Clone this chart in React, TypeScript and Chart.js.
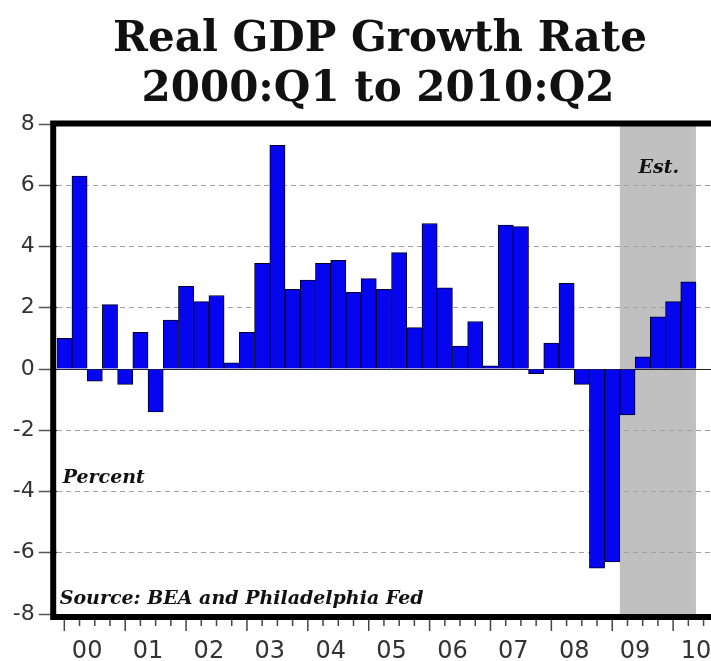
import React, { useEffect, useRef } from "react";
import { Chart, registerables } from "chart.js";

Chart.register(...registerables);

// ---- data ----
const YEARS = ["00", "01", "02", "03", "04", "05", "06", "07", "08", "09", "10"];
const QUARTERS = ["Q1", "Q2", "Q3", "Q4"];
// Real GDP growth, percent (annualized), 2000:Q1 .. 2010:Q2
const GDP_GROWTH = [
  1.0, 6.3, -0.4, 2.1,
  -0.5, 1.2, -1.4, 1.6,
  2.7, 2.2, 2.4, 0.2,
  1.2, 3.45, 7.3, 2.6,
  2.9, 3.45, 3.55, 2.5,
  2.95, 2.6, 3.8, 1.35,
  4.75, 2.65, 0.75, 1.55,
  0.1, 4.7, 4.65, -0.15,
  0.85, 2.8, -0.5, -6.5,
  -6.3, -1.5, 0.4, 1.7,
  2.2, 2.85,
];
const Y_MIN = -8;
const Y_MAX = 8;
const Y_STEP = 2;
const EST_START = "2009Q2";
const EST_END = "2010Q2";
const TITLE_LINES = ["Real GDP Growth Rate", "2000:Q1 to 2010:Q2"];
const EST_LABEL = "Est.";
const UNIT_LABEL = "Percent";
const SOURCE_LABEL = "Source: BEA and Philadelphia Fed";

const CATEGORIES = YEARS.flatMap((y) => QUARTERS.map((q) => `20${y}${q}`));

const CANVAS_W = 760;
const CANVAS_H = 661;

export default function App() {
  const ref = useRef<HTMLCanvasElement | null>(null);

  useEffect(() => {
    const canvas = ref.current;
    if (!canvas) return;

    const bandEdges = (chart: any) => {
      const x = chart.scales.x;
      const half = (x.getPixelForValue(1) - x.getPixelForValue(0)) / 2;
      const i0 = CATEGORIES.indexOf(EST_START);
      const i1 = CATEGORIES.indexOf(EST_END);
      return [x.getPixelForValue(i0) - half, x.getPixelForValue(i1) + half];
    };

    const decorations = {
      id: "decorations",
      beforeDraw(chart: any) {
        const { ctx, chartArea } = chart;
        const [left, right] = bandEdges(chart);
        ctx.save();
        ctx.fillStyle = "#c0c0c0";
        ctx.fillRect(left, chartArea.top, right - left, chartArea.bottom - chartArea.top);
        ctx.restore();
      },
      beforeDatasetsDraw(chart: any) {
        const { ctx, chartArea } = chart;
        const y = chart.scales.y;
        const y0 = Math.round(y.getPixelForValue(0)) + 0.5;
        ctx.save();
        ctx.strokeStyle = "#222";
        ctx.lineWidth = 1;
        ctx.beginPath();
        ctx.moveTo(chartArea.left, y0);
        ctx.lineTo(chartArea.right, y0);
        ctx.stroke();
        ctx.restore();
      },
      afterDraw(chart: any) {
        const { ctx, chartArea } = chart;
        const x = chart.scales.x;
        const y = chart.scales.y;
        ctx.save();
        // frame
        ctx.strokeStyle = "#000";
        ctx.lineWidth = 6;
        const fl = chartArea.left - 3.5;
        const ft = chartArea.top - 0.5;
        const fb = chartArea.bottom + 3;
        ctx.strokeRect(fl, ft, chartArea.right + 20 - fl, fb - ft);
        // quarterly tick marks below axis
        ctx.strokeStyle = "#444";
        ctx.lineWidth = 1.5;
        for (let i = 0; i < CATEGORIES.length; i++) {
          const px = x.getPixelForTick(i);
          const len = i % 4 === 0 ? 11 : 6;
          ctx.beginPath();
          ctx.moveTo(px, fb + 3);
          ctx.lineTo(px, fb + 3 + len);
          ctx.stroke();
        }
        // annotations
        ctx.fillStyle = "#111";
        ctx.font = 'italic bold 19px "DejaVu Serif"';
        ctx.textBaseline = "middle";
        const [bl, br] = bandEdges(chart);
        ctx.textAlign = "center";
        ctx.fillText(EST_LABEL, (bl + br) / 2 + 1, y.getPixelForValue(6.55));
        ctx.textAlign = "left";
        ctx.fillText(UNIT_LABEL, chartArea.left + 6, y.getPixelForValue(-3.55));
        ctx.fillText(SOURCE_LABEL, chartArea.left + 3, y.getPixelForValue(-7.5));
        // title
        ctx.fillStyle = "#111";
        ctx.font = 'bold 42px "DejaVu Serif"';
        ctx.textAlign = "center";
        ctx.textBaseline = "alphabetic";
        ctx.fillText(TITLE_LINES[0], 380, 51);
        ctx.fillText(TITLE_LINES[1], 378, 101);
        ctx.restore();
      },
    };

    const chart = new Chart(canvas, {
      type: "bar",
      data: {
        labels: CATEGORIES,
        datasets: [
          {
            data: GDP_GROWTH,
            backgroundColor: "#0505f0",
            borderColor: "#000022",
            borderWidth: 1,
            barPercentage: 1,
            categoryPercentage: 1,
          },
        ],
      },
      options: {
        responsive: false,
        animation: false,
        devicePixelRatio: 1,
        layout: { padding: { top: 124, right: 33.6, left: 0, bottom: 0 } },
        plugins: {
          legend: { display: false },
          tooltip: { enabled: false },
          title: { display: false },
        },
        scales: {
          x: {
            type: "category",
            offset: true,
            grid: { display: false, offset: false },
            border: { display: false },
            ticks: {
              autoSkip: false,
              maxRotation: 0,
              minRotation: 0,
              labelOffset: 7.6,
              padding: 15,
              color: "#333",
              font: { family: "DejaVu Sans", size: 24 },
              callback: (_v: any, index: number) =>
                index % 4 === 1 ? YEARS[Math.floor(index / 4)] : "",
            },
            afterFit: (scale: any) => {
              scale.height = 47;
            },
          },
          y: {
            min: Y_MIN,
            max: Y_MAX,
            border: { display: false, dash: [5, 4] },
            grid: {
              color: (c: any) => {
                const v = c.tick ? c.tick.value : 0;
                return v === 0 || v === Y_MIN || v === Y_MAX ? "rgba(0,0,0,0)" : "#a0a0a0";
              },
              lineWidth: 1,
              drawTicks: true,
              tickLength: 18,
              tickColor: "#555",
              tickWidth: 1.5,
            },
            ticks: {
              stepSize: Y_STEP,
              padding: 4,
              color: "#333",
              font: { family: "DejaVu Sans", size: 22 },
            },
            afterFit: (scale: any) => {
              scale.width = 56.7;
            },
          },
        },
      },
      plugins: [decorations],
    });

    return () => chart.destroy();
  }, []);

  return (
    <div
      style={{
        position: "absolute",
        left: 0,
        top: 0,
        width: 711,
        height: 661,
        overflow: "hidden",
        background: "#fff",
      }}
    >
      <canvas ref={ref} width={CANVAS_W} height={CANVAS_H} style={{ display: "block" }} />
    </div>
  );
}
